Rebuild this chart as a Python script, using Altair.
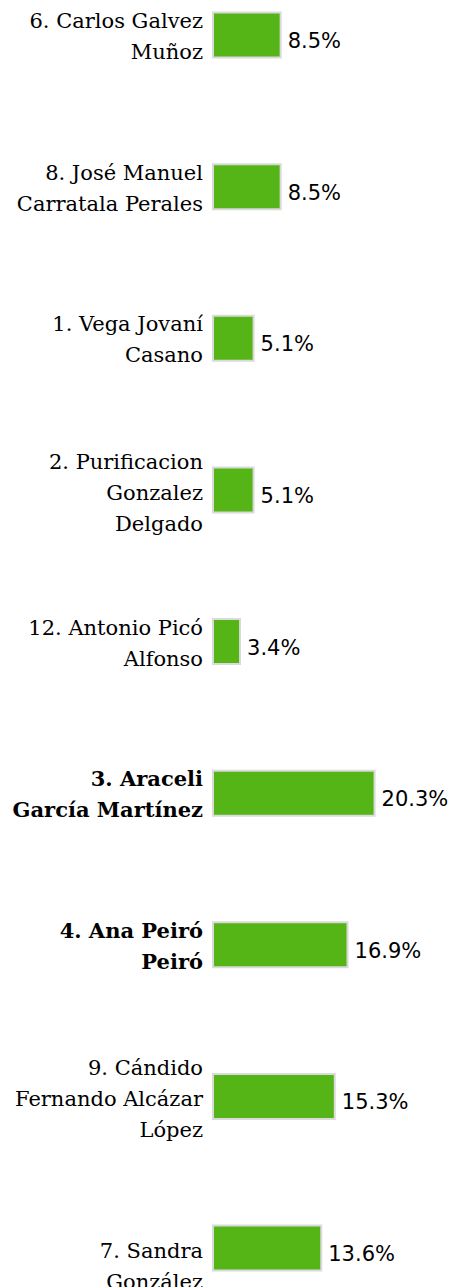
import altair as alt
import pandas as pd

# Candidate labels (line breaks as shown in the reference)
candidates = [
    "6. Carlos Galvez\nMuñoz",
    "8. José Manuel\nCarratala Perales",
    "1. Vega Jovaní\nCasano",
    "2. Purificacion\nGonzalez\nDelgado",
    "12. Antonio Picó\nAlfonso",
    "3. Araceli\nGarcía Martínez",
    "4. Ana Peiró\nPeiró",
    "9. Cándido\nFernando Alcázar\nLópez",
    "\n7. Sandra\nGonzález",
]
order = list(range(len(candidates)))
percentages = [8.5, 8.5, 5.1, 5.1, 3.4, 20.3, 16.9, 15.3, 13.6]
elected = [False, False, False, False, False, True, True, False, False]
value_labels = [f"{v:.1f}%" for v in percentages]

df = pd.DataFrame({
    "rank": order,
    "name": candidates,
    "pct": percentages,
    "elected": elected,
    "label": value_labels,
})

SERIF = "DejaVu Serif"

y_enc = alt.Y("rank:O", scale=alt.Scale(type="point", padding=0), axis=None)
x_enc = alt.X("pct:Q", scale=alt.Scale(domain=[0, 25], nice=False, zero=True), axis=None)

base = alt.Chart(df).transform_calculate(
    nlines="length(split(datum.name, '\\n'))"
)

bars = base.mark_bar(size=45, color="#56b516", stroke="#dadada", strokeWidth=2).encode(
    x=x_enc,
    y=y_enc,
)


def name_layer(n_lines, bold, dy):
    test = f"datum.nlines == {n_lines} && " + ("datum.elected" if bold else "!datum.elected")
    return base.transform_filter(test).mark_text(
        align="right", baseline="alphabetic", dx=-10, dy=dy,
        font=SERIF, fontSize=21, lineHeight=31, lineBreak="\n",
        color="#000000", fontWeight="bold" if bold else "normal",
    ).encode(
        x=alt.value(0),
        y=y_enc,
        text="name:N",
    )


names_2 = name_layer(2, False, -7)
names_2b = name_layer(2, True, -7)
names_3 = name_layer(3, False, -21)

values = base.mark_text(
    align="left", baseline="alphabetic", dx=7, dy=13,
    font="DejaVu Sans", fontSize=21, color="#000000",
).encode(
    x=x_enc,
    y=y_enc,
    text="label:N",
)

chart = alt.layer(bars, names_2, names_2b, names_3, values).properties(
    width=199,
    height=1213,
    padding={"left": 213, "top": 35, "right": 41, "bottom": 39},
    autosize=alt.AutoSizeParams(type="none"),
).configure_view(stroke=None)

chart.save("out.html", embed_options={"renderer": "svg", "actions": False})
